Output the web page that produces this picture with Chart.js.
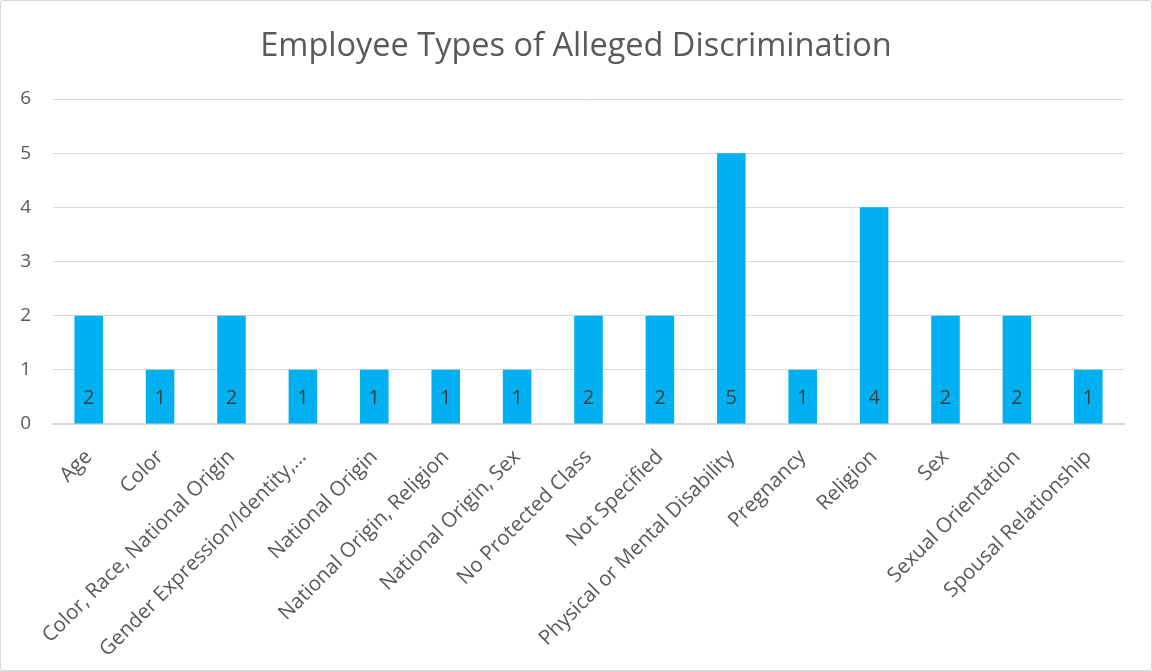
<!DOCTYPE html>
<html>
<head>
<meta charset="utf-8">
<script src="https://cdn.jsdelivr.net/npm/chart.js@4/dist/chart.umd.min.js"></script>
<style>
  html, body { margin: 0; padding: 0; background: #fff; }
  #wrap { width: 1150px; height: 669px; border: 1px solid #d9d9d9; border-radius: 3px; }
</style>
</head>
<body>
<div id="wrap"><canvas id="discriminationChart" width="1150" height="669"></canvas></div>
<script>
const categories = [
  "Age", "Color", "Color, Race, National Origin", "Gender Expression/Identity,\u2026",
  "National Origin", "National Origin, Religion", "National Origin, Sex",
  "No Protected Class", "Not Specified", "Physical or Mental Disability",
  "Pregnancy", "Religion", "Sex", "Sexual Orientation", "Spousal Relationship"
];
const counts = [2, 1, 2, 1, 1, 1, 1, 2, 2, 5, 1, 4, 2, 2, 1];

const fontFamily = "'Open Sans', 'Noto Sans', sans-serif";

// draws the value near the base of each bar (like Excel's "inside base")
const insideBaseLabels = {
  id: 'insideBaseLabels',
  afterDatasetsDraw(chart) {
    const ctx = chart.ctx;
    const meta = chart.getDatasetMeta(0);
    ctx.save();
    ctx.font = "20px " + fontFamily;
    ctx.fillStyle = '#404040';
    ctx.textAlign = 'center';
    ctx.textBaseline = 'middle';
    meta.data.forEach((bar, i) => {
      ctx.fillText(String(chart.data.datasets[0].data[i]), bar.x, bar.base - 25);
    });
    ctx.restore();
  }
};

var ctx = document.getElementById('discriminationChart').getContext('2d');
var chart = new Chart(ctx, {
    type: 'bar',
    data: {
        labels: categories,
        datasets: [{
            label: "Count",
            backgroundColor: '#00B0F0',
            data: counts,
            barPercentage: 0.4,
            categoryPercentage: 1.0
        }]
    },
    options: {
        responsive: false,
        animation: false,
        layout: { padding: 0 },
        plugins: {
            legend: { display: false },
            tooltip: { enabled: false },
            title: {
                display: true,
                text: 'Employee Types of Alleged Discrimination',
                color: '#595959',
                font: { family: fontFamily, size: 32.5, weight: 'normal', lineHeight: 1.2 },
                padding: { top: 26, bottom: 33 }
            }
        },
        scales: {
            x: {
                grid: { display: false, drawTicks: false },
                border: { display: true, color: '#d9d9d9', width: 2 },
                ticks: {
                    color: '#595959',
                    font: { family: fontFamily, size: 20.5 },
                    maxRotation: 45,
                    minRotation: 45,
                    autoSkip: false,
                    padding: 21
                },
                afterFit: function(scale) { scale.height = 246; }
            },
            y: {
                min: 0,
                max: 6,
                grid: { color: '#d9d9d9', lineWidth: 1, drawTicks: false },
                border: { display: false },
                ticks: {
                    stepSize: 1,
                    color: '#595959',
                    font: { family: fontFamily, size: 19 },
                    padding: 22
                },
                afterFit: function(scale) { scale.width = 52; }
            },
            // empty right axis, only keeps the plot area off the right edge
            yRight: {
                position: 'right',
                min: 0,
                max: 6,
                grid: { display: false, drawTicks: false },
                border: { display: false },
                ticks: { display: false },
                afterFit: function(scale) { scale.width = 27; }
            }
        }
    },
    plugins: [insideBaseLabels]
});
</script>
</body>
</html>
